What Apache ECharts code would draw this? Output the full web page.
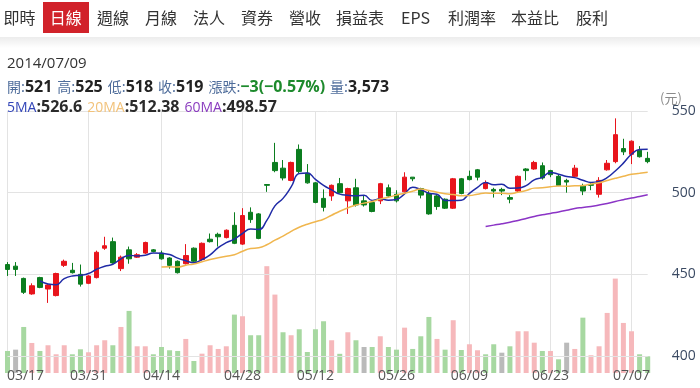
<!DOCTYPE html>
<html><head><meta charset="utf-8">
<script src="https://cdn.jsdelivr.net/npm/echarts@6/dist/echarts.min.js"></script>
<style>
html,body{margin:0;padding:0;background:#fff;width:700px;height:388px;overflow:hidden;font-family:'Open Sans','Noto Sans CJK TC',sans-serif;}
#chart{position:absolute;left:0;top:0;width:700px;height:388px;}
.tab{position:absolute;top:2px;height:31px;line-height:31px;font-size:16px;color:#333;font-family:'Noto Sans CJK TC',sans-serif;white-space:nowrap;}
.tab.on{background:#d1222a;color:#fff;width:46.5px;text-align:center;}
.shade{position:absolute;left:0;top:37px;width:700px;height:11px;background:linear-gradient(#ececec,#fff);}
.hl{position:absolute;left:7px;height:20px;line-height:20px;white-space:nowrap;color:#333;}
.lb{font-size:14px;color:#4f6d9b;font-family:'Noto Sans CJK TC',sans-serif;}
.v{font-size:16px;font-weight:bold;color:#222;margin-right:5px;}
.dn{font-size:16px;font-weight:bold;color:#1d8a2c;margin-right:5px;}
.m{font-size:16px;font-weight:bold;color:#2a2a2a;margin-right:5px;}
</style></head><body>
<div id="chart"></div>
<div id="tabs"></div>
<div class="shade"></div>
<div class="hl" style="top:52px;font-size:15px;color:#333;">2014/07/09</div>
<div class="hl" style="top:76px;"><span class="lb">開:</span><span class="v">521</span><span class="lb">高:</span><span class="v">525</span><span class="lb">低:</span><span class="v">518</span><span class="lb">收:</span><span class="v">519</span><span class="lb">漲跌:</span><span class="dn">−3(−0.57%)</span><span class="lb">量:</span><span class="v">3,573</span></div>
<div class="hl" style="top:96px;"><span class="lb" style="color:#3346b8;font-family:'Open Sans'">5MA</span><span class="m">:526.6</span><span class="lb" style="color:#f2c27a;font-family:'Open Sans'">20MA</span><span class="m">:512.38</span><span class="lb" style="color:#8a3cbf;font-family:'Open Sans'">60MA</span><span class="m">:498.57</span></div>
<script>
const tabNames = ['即時','日線','週線','月線','法人','資券','營收','損益表','EPS','利潤率','本益比','股利'];
const tabLeft = [3.5,42.5,97,145,193,241,289,336,401,448,511,576];

const dates = ['03/17','03/18','03/19','03/20','03/21','03/24','03/25','03/26','03/27','03/28',
'03/31','04/01','04/02','04/03','04/07','04/08','04/09','04/10','04/11',
'04/14','04/15','04/16','04/17','04/18','04/21','04/22','04/23','04/24','04/25',
'04/28','04/29','04/30','05/02','05/05','05/06','05/07','05/08','05/09',
'05/12','05/13','05/14','05/15','05/16','05/19','05/20','05/21','05/22','05/23',
'05/26','05/27','05/28','05/29','05/30','06/03','06/04','06/05','06/06',
'06/09','06/10','06/11','06/12','06/13','06/16','06/17','06/18','06/19','06/20',
'06/23','06/24','06/25','06/26','06/27','06/30','07/01','07/02','07/03','07/04',
'07/07','07/08','07/09'];
const dateTicks = ['03/17','03/31','04/14','04/28','05/12','05/26','06/09','06/23','07/07'];
const priceTicks = [400,450,500,550];

const opens = [456,455,447.5,438,448,441,437,455.5,452.5,450,
444.5,448,466,470,453.5,465,460.5,463,465,
463,460,458,456.5,466,459,471.5,474.5,472.5,480,
468.5,488,487,505,518.5,515,507.5,526.5,512,
506,496.5,498,505.5,495,503,495,494,495,503,
499,500.5,509.5,502.5,499.5,498,496,490.5,508.5,
510,514,502.5,502,502,497,501,514.5,514.5,516.5,
513.5,510,507.5,510,504,505,499,514,519,527,
523.5,526,521];
const highs = [457.5,457.5,448,444.5,448.5,444,451,459,457,456,
449.5,464.5,473,472.5,461.5,467,463,470,465.5,
464.5,460.5,458.5,468.5,466.5,469.5,475,475.5,477.5,488,
490.5,491,487.5,505,530.5,520,519,529.5,517.5,
506.5,502,505,509,503,508.5,498,495,506,505,
501.5,512.5,509.5,503,501,499,496.5,509,509,
513.5,514.5,507.5,503,503,498.5,510.5,515,519.5,518.5,
514,511,508.5,517,505.5,506,509.5,520,545.5,533,
532,528.5,525];
const lows = [449,449,438,437.5,441.5,432.5,436.5,454.5,450.5,442.5,
444,447.5,465,456.5,452,456.5,460,462.5,463.5,
459,453.5,450.5,456,457,458.5,469.5,467,472,468.5,
468,481.5,471.5,500.5,512.5,507.5,507,512,505.5,
493.5,488.5,495,499.5,487,491.5,491.5,488,493,497.5,
494,500,507,496.5,486.5,489.5,490,490,499,
507.5,507.5,502,497,498.5,493.5,500.5,507.5,514,508,
509.5,504,500,509.5,498.5,501.5,497,513.5,518,523,
517.5,521.5,518];
const closes = [453,453,439,443,442,443.5,450.5,458,451,444,
449,463.5,467.5,457,460.5,459.5,462,469.5,464,
459.5,455.5,451,461.5,458,469,470,473,477,469,
486,483.5,472,504.5,513.5,509,518.5,513,506,
494,491,504.5,500,502.5,492.5,492.5,488.5,505.5,498,
495,509.5,508.5,498.5,487,491.5,490.5,508.5,499.5,
508,509.5,506,501,501,496,510,513.5,518.5,509,
511,504.5,506.5,515,501,504.5,507.5,518,535.5,525,
531.5,522,519];
const volumes = [4710,4990,9840,6420,4710,5930,4000,5930,4000,5070,
4430,5930,7000,5930,9840,13270,5710,5710,4000,
5560,4860,4710,7280,2570,4130,5930,5140,5710,12480,
12130,8070,8070,22830,16760,8710,8070,9350,4490,
9350,11060,7000,4100,8710,7000,5560,5560,7850,5560,
4990,9690,5140,7850,11980,7280,4990,11280,4920,
6140,4860,4000,6140,4340,5710,8920,8920,6480,4710,
4710,2930,6480,5140,11830,3790,5710,12840,20180,10700,
8920,4000,3573];
// 1 = up day, -1 = down day, 0 = unchanged (as coloured in the reference)
const volDir = [-1,0,-1,1,-1,1,1,1,-1,-1,
1,1,1,-1,1,-1,1,1,-1,
-1,-1,-1,1,-1,1,1,1,1,-1,
1,-1,-1,1,1,-1,1,-1,-1,
-1,-1,1,-1,1,-1,0,-1,1,-1,
-1,1,-1,-1,-1,1,-1,1,-1,
1,1,-1,-1,0,-1,1,1,1,-1,
1,-1,0,1,-1,1,1,1,1,1,
1,-1,-1];
const ma5 = [null,null,null,null,446.0,444.1,443.6,447.4,449.0,449.4,
450.5,453.1,455.0,456.2,459.5,461.6,461.3,461.7,463.1,
462.9,462.1,459.9,458.3,457.1,459.0,461.9,466.3,469.4,471.6,
475.0,477.7,477.5,483.0,491.9,496.5,503.5,511.7,512.0,
508.1,504.5,501.7,499.1,498.4,498.1,498.4,495.2,496.3,495.4,
495.9,499.3,503.3,501.9,499.7,499.0,495.2,495.2,495.4,
499.6,503.2,506.3,504.8,505.1,502.7,502.8,504.3,507.8,509.4,
512.4,511.3,509.9,509.2,507.6,506.3,506.9,509.2,513.3,518.1,
523.5,526.4,526.6];
const ma20 = [null,null,null,null,null,null,null,null,null,null,
null,null,null,null,null,null,null,null,null,
454.45,454.58,454.48,455.6,456.35,457.7,459.03,460.15,461.1,462.0,
464.1,465.83,466.25,468.1,470.93,473.35,476.3,478.85,480.68,
482.18,483.75,486.2,488.65,490.7,492.43,493.6,494.53,496.15,497.2,
498.5,499.68,500.93,502.25,501.38,500.28,499.35,498.85,498.18,
498.28,499.05,499.8,499.63,499.68,499.35,500.23,501.28,502.78,502.95,
503.6,504.08,503.93,504.25,504.38,505.25,506.05,507.43,508.78,510.05,
511.23,511.85,512.5];
const ma60 = [null,null,null,null,null,null,null,null,null,null,
null,null,null,null,null,null,null,null,null,
null,null,null,null,null,null,null,null,null,null,
null,null,null,null,null,null,null,null,null,
null,null,null,null,null,null,null,null,null,null,
null,null,null,null,null,null,null,null,null,
null,null,479.33,480.13,480.93,481.88,483.0,484.19,485.44,486.42,
487.3,488.19,489.23,490.33,490.96,491.58,492.42,493.38,494.64,495.69,
496.73,497.69,498.68];

const tabs = document.getElementById('tabs');
tabNames.forEach((t, i) => {
  const d = document.createElement('div');
  d.className = 'tab' + (t === '日線' ? ' on' : '');
  d.style.left = tabLeft[i] + 'px';
  d.textContent = t;
  tabs.appendChild(d);
});

const volColor = {'1': '#f6b8bb', '-1': '#a7d8a1', '0': '#bababa'};
const candleData = dates.map((d, i) => [opens[i], closes[i], lows[i], highs[i]]);
const volData = volumes.map((v, i) => ({value: v, itemStyle: {color: volColor[String(volDir[i])]}}));

const FONT = "'Open Sans','Noto Sans CJK TC',sans-serif";
const L = 7.5, R = 52.3;
const chart = echarts.init(document.getElementById('chart'), null, {renderer: 'canvas'});
chart.setOption({
  animation: false,
  backgroundColor: 'transparent',
  textStyle: {fontFamily: FONT},
  grid: [
    {left: L, right: R, top: 111, height: 245},
    {left: L, right: R, top: 111, bottom: 15}
  ],
  xAxis: [
    {type: 'category', gridIndex: 0, data: dates, boundaryGap: false,
     axisLine: {show: false}, axisTick: {show: false}, axisLabel: {show: false}, splitLine: {show: false}},
    {type: 'category', gridIndex: 1, data: dates, boundaryGap: false, position: 'top',
     axisLine: {show: false}, axisTick: {show: false}, axisLabel: {show: false},
     splitLine: {show: true, interval: (i, v) => dateTicks.includes(dates[i]), lineStyle: {color: '#e3e3e3', width: 1}}},
    {type: 'category', gridIndex: 1, data: dates, boundaryGap: false, position: 'bottom', z: 10,
     axisLine: {show: false}, axisTick: {show: false}, splitLine: {show: false},
     axisLabel: {show: true, interval: (i, v) => dateTicks.includes(dates[i]), color: '#555', fontSize: 14,
       fontFamily: FONT, margin: 3, verticalAlign: 'middle',
       formatter: v => v === dateTicks[0] ? '{f|' + v + '}' : v,
       rich: {f: {color: '#555', fontSize: 14, fontFamily: FONT, padding: [0, 0, 0, 36]}}}}
  ],
  yAxis: [
    {type: 'value', gridIndex: 0, position: 'right', min: priceTicks[0], max: priceTicks[priceTicks.length - 1], interval: 50, z: 2,
     axisLine: {show: false}, axisTick: {show: false},
     axisLabel: {color: '#3b4a63', fontSize: 14, margin: 24, fontFamily: FONT},
     splitLine: {show: true, lineStyle: {color: '#e3e3e3', width: 1}}},
    {type: 'value', gridIndex: 1, min: 0, max: 56000, show: false, splitLine: {show: false}}
  ],
  graphic: [
    {type: 'text', left: 660, top: 92, z: 20, style: {text: '(元)', fill: '#8a8a8a', font: "13px 'Noto Sans CJK TC'"}}
  ],
  series: [
    {type: 'bar', xAxisIndex: 1, yAxisIndex: 1, data: volData, barWidth: 5, z: 1, clip: false},
    {type: 'candlestick', xAxisIndex: 0, yAxisIndex: 0, data: candleData, barWidth: 5, z: 3, clip: false,
     itemStyle: {color: '#e8141c', color0: '#0b7d1f', borderColor: '#e8141c', borderColor0: '#0b7d1f', borderWidth: 1}},
    {type: 'line', xAxisIndex: 0, yAxisIndex: 0, data: ma5, smooth: true, symbol: 'none', z: 4,
     lineStyle: {color: '#1f2aa6', width: 1.5}},
    {type: 'line', xAxisIndex: 0, yAxisIndex: 0, data: ma20, smooth: true, symbol: 'none', z: 4,
     lineStyle: {color: '#f0b64e', width: 1.5}},
    {type: 'line', xAxisIndex: 0, yAxisIndex: 0, data: ma60, smooth: true, symbol: 'none', z: 4,
     lineStyle: {color: '#8b34c6', width: 1.5}}
  ]
});
</script>
</body></html>
